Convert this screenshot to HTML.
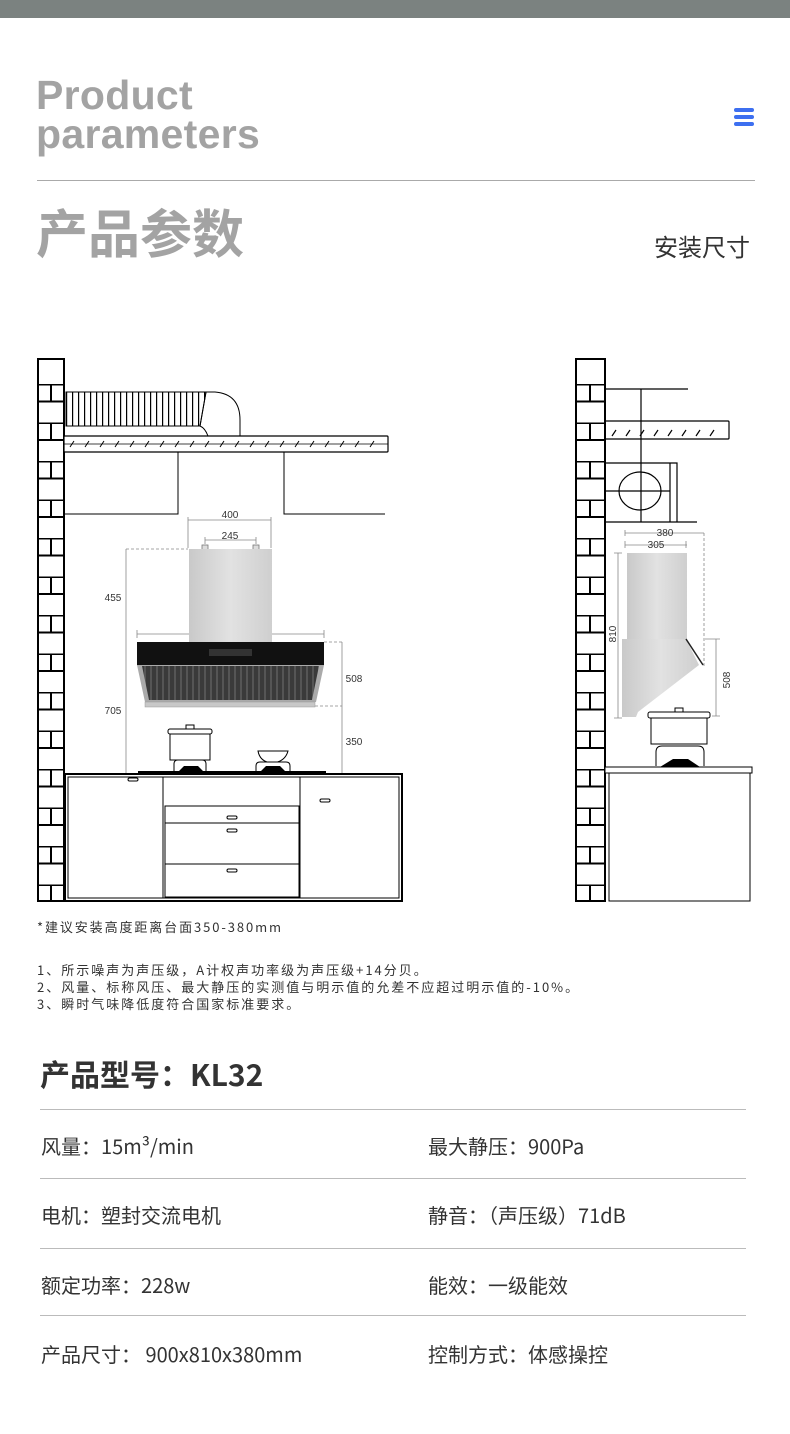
<!DOCTYPE html>
<html><head><meta charset="utf-8"><style>
body{margin:0;background:#fff;width:790px;height:1434px;position:relative;overflow:hidden;font-family:"Liberation Sans","Noto Sans CJK SC",sans-serif}
.t{position:absolute;white-space:nowrap}
.n{font-family:"Noto Sans CJK SC",sans-serif}
.hl{position:absolute;left:40px;width:706px;height:1px;background:#bbb}
</style></head><body>
<div style="position:absolute;left:0;top:0;width:790px;height:18px;background:#7b8280"></div>
<div class="t" style="left:36px;top:76px;font-size:41px;line-height:39px;font-weight:bold;color:#a3a3a3;letter-spacing:0.3px">Product<br>parameters</div>
<div style="position:absolute;left:734px;top:108px;width:20px;height:4px;background:#3d6ff0;border-radius:2px"></div>
<div style="position:absolute;left:734px;top:115px;width:20px;height:4px;background:#3d6ff0;border-radius:2px"></div>
<div style="position:absolute;left:734px;top:122px;width:20px;height:4px;background:#3d6ff0;border-radius:2px"></div>
<div style="position:absolute;left:37px;top:180px;width:718px;height:1px;background:#aaa"></div>
<div class="t" style="left:36px;top:203px;font-size:52px;font-weight:bold;color:#a3a3a3;line-height:66px">产品参数</div>
<div class="t" style="left:654px;top:232px;font-size:24px;color:#333;line-height:34px">安装尺寸</div>

<svg width="790" height="920" style="position:absolute;left:0;top:0" font-family="Liberation Sans,sans-serif">
<defs>
<pattern id="br" x="0" y="384" width="790" height="38.5" patternUnits="userSpaceOnUse">
<line x1="0" y1="0.5" x2="790" y2="0.5" stroke="#000" stroke-width="2"/>
<line x1="0" y1="17.5" x2="790" y2="17.5" stroke="#000" stroke-width="2"/>
<line x1="51" y1="0" x2="51" y2="17" stroke="#000" stroke-width="2"/>
<line x1="590" y1="0" x2="590" y2="17" stroke="#000" stroke-width="2"/>
</pattern>
<linearGradient id="pn" x1="0" x2="1"><stop offset="0" stop-color="#c9c9c9"/><stop offset=".5" stop-color="#e2e2e2"/><stop offset="1" stop-color="#cfcfcf"/></linearGradient>
<pattern id="gr" x="0" y="0" width="6" height="10" patternUnits="userSpaceOnUse"><rect width="6" height="10" fill="#3a3a3a"/><rect width="2" height="10" fill="#555"/></pattern>
<pattern id="rib" x="66" y="0" width="6" height="10" patternUnits="userSpaceOnUse"><rect width="6" height="10" fill="#fff"/><rect width="1.2" height="10" fill="#000"/></pattern>
</defs>
<rect x="38" y="359" width="26" height="542" fill="url(#br)" stroke="#000" stroke-width="2"/>
<rect x="39" y="360" width="24" height="22.5" fill="#fff"/>
<rect x="66" y="392" width="140" height="34" fill="url(#rib)" stroke="#000" stroke-width="1"/>
<path d="M206 392 L215 392 Q240 394 240 420 L240 436 L208 436 Q205 428 200 426 L206 392Z" fill="#fff" stroke="#000" stroke-width="1"/>
<line x1="206" y1="392" x2="200" y2="426" stroke="#000"/>
<rect x="64" y="436" width="324" height="16" fill="#fff" stroke="#000" stroke-width="1.2" rx="1"/>
<g stroke="#000" stroke-width="1">
<path d="M70 447 l4 -6 M85 447 l4 -6 M100 447 l4 -6 M115 447 l4 -6 M130 447 l4 -6 M145 447 l4 -6 M160 447 l4 -6 M175 447 l4 -6 M190 447 l4 -6 M205 447 l4 -6 M220 447 l4 -6 M235 447 l4 -6 M250 447 l4 -6 M265 447 l4 -6 M280 447 l4 -6 M295 447 l4 -6 M310 447 l4 -6 M325 447 l4 -6 M340 447 l4 -6 M355 447 l4 -6 M370 447 l4 -6"/>
<line x1="64" y1="444" x2="388" y2="444" stroke-width="0.8"/>
</g>
<path d="M64 514 H178 V452 M284 452 V514 H385" fill="none" stroke="#000" stroke-width="1"/>
<g stroke="#888" stroke-width="0.8" fill="none">
<path d="M188 548 V517 M271 548 V517 M188 520 H271"/>
<path d="M205 540 H256 M205 537 V544 M256 537 V544"/>
<path d="M126 549 H188" stroke-dasharray="3 2"/>
<path d="M126 549 V773"/>
<path d="M137 634 H324 M137 630 V638 M324 630 V638"/>
<path d="M324 642 H342 M305 706 H342" stroke-dasharray="3 2"/>
<path d="M342 642 V773"/>
</g>
<g font-size="10" fill="#333" text-anchor="middle">
<text x="230" y="518">400</text><text x="230" y="539">245</text>
<text x="113" y="601">455</text><text x="230" y="635">900</text>
<text x="354" y="682">508</text><text x="113" y="714">705</text><text x="354" y="745">350</text>
</g>
<rect x="202" y="545" width="6" height="6" fill="#ddd" stroke="#777" stroke-width="0.8"/>
<rect x="253" y="545" width="6" height="6" fill="#ddd" stroke="#777" stroke-width="0.8"/>
<rect x="189" y="549" width="83" height="93" fill="url(#pn)"/>
<rect x="137" y="642" width="187" height="23" fill="#111"/>
<rect x="209" y="649" width="43" height="7" fill="#333"/>
<path d="M137 665 H324 L316 702 H145Z" fill="#aaa"/>
<path d="M142 666 H319 L312 700 H149Z" fill="url(#gr)"/>
<rect x="145" y="702" width="170" height="5" fill="#c8c8c8" stroke="#999" stroke-width="0.5"/>
<g stroke="#000" stroke-width="1" fill="#fff">
<rect x="170" y="732" width="40" height="28"/>
<rect x="168" y="729" width="44" height="5" rx="2"/>
<rect x="186" y="725" width="8" height="4"/>
<path d="M174 772 V764 Q174 760 178 760 H202 Q206 760 206 764 V772"/>
<path d="M258 751 Q260 762 272 763 Q285 762 288 751Z"/>
<path d="M256 772 V766 Q256 762 260 762 H286 Q290 762 290 766 V772"/>
</g>
<path d="M178 772 L184 766 H198 L204 772Z M260 772 L266 766 H280 L286 772Z" fill="#000"/>
<rect x="138" y="771" width="188" height="3" fill="#000"/>
<rect x="65" y="774" width="337" height="127" fill="#fff" stroke="#000" stroke-width="2"/>
<rect x="68" y="777" width="331" height="121" fill="none" stroke="#000" stroke-width="1"/>
<g stroke="#000" stroke-width="1" fill="none">
<path d="M163 777 V898 M300 777 V898"/>
<rect x="165" y="806" width="134" height="17"/>
<rect x="165" y="823" width="134" height="41"/>
<rect x="165" y="864" width="134" height="33"/>
</g>
<g fill="#fff" stroke="#000" stroke-width="1">
<rect x="128" y="778" width="10" height="3" rx="1.5"/><rect x="320" y="799" width="10" height="3" rx="1.5"/>
<rect x="227" y="816" width="10" height="3" rx="1.5"/><rect x="227" y="829" width="10" height="3" rx="1.5"/><rect x="227" y="869" width="10" height="3" rx="1.5"/>
</g>

<rect x="576" y="359" width="29" height="542" fill="url(#br)" stroke="#000" stroke-width="2"/>
<rect x="577" y="360" width="27" height="22.5" fill="#fff"/>
<g stroke="#000" stroke-width="1.2" fill="none">
<path d="M605 389 H688 M641 389 V522"/>
<rect x="605" y="421" width="124" height="18" rx="1"/>
<path d="M612 436 l4 -6 M626 436 l4 -6 M640 436 l4 -6 M654 436 l4 -6 M668 436 l4 -6 M682 436 l4 -6 M696 436 l4 -6 M710 436 l4 -6"/>
<path d="M605 463 H677 V522 M670 463 V522 M605 491 H670 M605 522 H697"/>
<ellipse cx="640" cy="491" rx="21" ry="19"/>
</g>
<g stroke="#888" stroke-width="0.8" fill="none">
<path d="M625 533 H704 M625 530 V536 M686 541 V548 M625 545 H687 M625 541 V548"/>
<path d="M704 533 V667" stroke-dasharray="3 2"/>
<path d="M618 553 V718 M614 553 H622 M614 718 H622"/>
<path d="M716 639 V716 M705 639 H720 M712 716 H720"/>
</g>
<g font-size="10" fill="#333" text-anchor="middle">
<text x="665" y="536">380</text><text x="656" y="548">305</text>
<text transform="translate(616,634) rotate(-90)">810</text>
<text transform="translate(730,680) rotate(-90)">508</text>
</g>
<rect x="627" y="553" width="60" height="86" fill="url(#pn)"/>
<path d="M622 639 H686 L699 665 L638 712 L636 717 H622Z" fill="url(#pn)"/>
<path d="M686 639 L703 665" stroke="#222" stroke-width="1.5"/>
<g stroke="#000" stroke-width="1" fill="#fff">
<rect x="651" y="717" width="56" height="27"/>
<rect x="648" y="712" width="62" height="6" rx="2"/>
<rect x="675" y="708" width="8" height="4"/>
<path d="M656 766 V752 Q656 746 662 746 H698 Q704 746 704 752 V766"/>
</g>
<path d="M660 767 L673 759 H688 L700 767Z" fill="#000"/>
<rect x="605" y="767" width="147" height="6" fill="#fff" stroke="#000" stroke-width="1"/>
<path d="M609 773 V901 H750 V773" fill="none" stroke="#000" stroke-width="1"/>
</svg>

<div class="t n" style="left:37px;top:917px;font-size:13px;line-height:20px;color:#333;letter-spacing:1.9px">*建议安装高度距离台面350-380mm</div>
<div class="t n" style="left:37px;top:961px;font-size:13px;line-height:17px;color:#333;letter-spacing:2px">1、所示噪声为声压级，A计权声功率级为声压级+14分贝。<br>2、风量、标称风压、最大静压的实测值与明示值的允差不应超过明示值的-10%。<br>3、瞬时气味降低度符合国家标准要求。</div>
<div class="t n" style="left:40px;top:1051px;font-size:30px;font-weight:bold;color:#333;line-height:44px">产品型号：KL32</div>
<div class="hl" style="top:1109px"></div>
<div class="hl" style="top:1178px"></div>
<div class="hl" style="top:1248px"></div>
<div class="hl" style="top:1315px"></div>
<div class="t n" style="left:41px;top:1131px;font-size:20px;line-height:30px;color:#333">风量：15m³/min</div>
<div class="t n" style="left:428px;top:1131px;font-size:20px;line-height:30px;color:#333">最大静压：900Pa</div>
<div class="t n" style="left:41px;top:1200px;font-size:20px;line-height:30px;color:#333">电机：塑封交流电机</div>
<div class="t n" style="left:428px;top:1200px;font-size:20px;line-height:30px;color:#333">静音：（声压级）71dB</div>
<div class="t n" style="left:41px;top:1270px;font-size:20px;line-height:30px;color:#333">额定功率：228w</div>
<div class="t n" style="left:428px;top:1270px;font-size:20px;line-height:30px;color:#333">能效：一级能效</div>
<div class="t n" style="left:41px;top:1339px;font-size:20px;line-height:30px;color:#333">产品尺寸：  900x810x380mm</div>
<div class="t n" style="left:428px;top:1339px;font-size:20px;line-height:30px;color:#333">控制方式：体感操控</div>
</body></html>
